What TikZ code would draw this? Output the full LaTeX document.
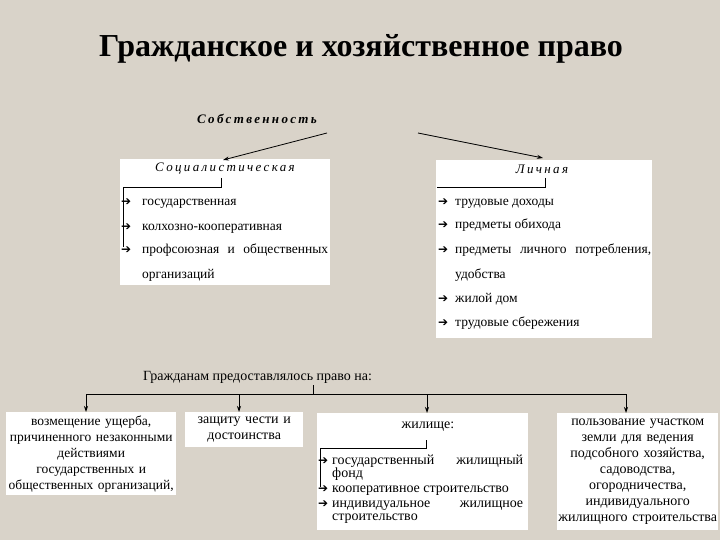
\documentclass[tikz,border=0pt]{standalone}
\usepackage{fontspec}
\setmainfont{Liberation Serif}
\newfontfamily\arrowfont{DejaVu Sans}
\usetikzlibrary{arrows.meta}
\definecolor{bg}{HTML}{D9D3C9}
\tikzset{
  box/.style={fill=white, draw=none, inner sep=0pt, anchor=north west},
  item/.style={anchor=base west, inner sep=0pt, font=\fontsize{13.5}{15}\selectfont},
  hitem/.style={anchor=base west, inner sep=0pt, font=\fontsize{14}{15}\selectfont},
  bul/.style={anchor=base west, inner sep=0pt, font=\arrowfont\bfseries\fontsize{12}{13}\selectfont},
  head/.style={anchor=base, inner sep=0pt, font=\itshape\fontsize{13}{15}\selectfont\addfontfeatures{LetterSpace=18}},
  ln/.style={line width=0.8pt},
  arr/.style={line width=0.8pt, -{Stealth[length=6pt,width=4pt]}},
  btext/.style={font=\fontsize{14}{16}\selectfont, align=center, inner sep=0pt}
}
\begin{document}
\begin{tikzpicture}[x=1pt,y=-1pt]
\fill[bg] (0,0) rectangle (720,540);
\useasboundingbox (0,0) rectangle (720,540);

% title
\node[font=\bfseries\fontsize{32}{36}\selectfont, anchor=base] (title) at (361,57) {Гражданское и хозяйственное право};

% property
\node[anchor=base, inner sep=0pt, font=\bfseries\itshape\fontsize{13}{15}\selectfont\addfontfeatures{LetterSpace=18}] (prop) at (257,124) {Собственность};
\coordinate (propL) at (327,133);
\coordinate (propR) at (418,133);

% socialist box
\node[box, minimum width=210pt, minimum height=126pt] (socbox) at (120,159) {};
\node[head] (soc) at (225,172) {Социалистическая};
\draw[arr] (propL) -- (223,160);
\draw[ln] (221,178) -- (221,187) -- (123,187) -- (123,247);
\node[bul] (sa1) at (121,206) {➔};
\node[item] (s1) at (142,206) {государственная};
\node[bul] (sa2) at (121,230) {➔};
\node[item] (s2) at (142,230) {колхозно-кооперативная};
\node[bul] (sa3) at (121,253) {➔};
\node[item] (s3) at (142,253) {\makebox[186pt][s]{профсоюзная и общественных}};
\node[item] (s4) at (142,278) {организаций};

% personal box
\node[box, minimum width=216pt, minimum height=178pt] (perbox) at (436,160) {};
\node[head] (per) at (542,174) {Личная};
\draw[arr] (propR) -- (543,158);
\draw[ln] (545,178) -- (545,187) -- (437,187);
\node[bul] (pa1) at (438,206) {➔};
\node[item] (p1) at (455,206) {трудовые доходы};
\node[bul] (pa2) at (438,229) {➔};
\node[item] (p2) at (455,229) {предметы обихода};
\node[bul] (pa3) at (438,253) {➔};
\node[item] (p3) at (455,253) {\makebox[196pt][s]{предметы личного потребления,}};
\node[item] (p4) at (455,278) {удобства};
\node[bul] (pa5) at (438,302) {➔};
\node[item] (p5) at (455,302) {жилой дом};
\node[bul] (pa6) at (438,326) {➔};
\node[item] (p6) at (455,326) {трудовые сбережения};

% citizens
\node[anchor=base west, inner sep=0pt, font=\fontsize{14}{16}\selectfont] (cit) at (143,380) {Гражданам предоставлялось право на:};
\coordinate (citT) at (313,385);
\coordinate (bus) at (313,394);
\draw[ln] (citT) -- (bus);
\draw[ln] (86,394) -- (626,394);

\node[box, btext, font=\fontsize{13.5}{16}\selectfont, minimum width=170pt, minimum height=83pt, text width=170pt] (b1) at (6,412)
  {возмещение ущерба,\\ причиненного незаконными\\ действиями\\ государственных и\\ общественных организаций,};
\node[box, btext, minimum width=118pt, minimum height=35pt, text width=118pt] (b2) at (185,412)
  {защиту чести и\\ достоинства};
\node[box, minimum width=211pt, minimum height=117pt] (b3) at (317,413) {};
\node[box, btext, minimum width=161pt, minimum height=117pt, text width=161pt] (b4) at (557,413)
  {пользование участком\\ земли для ведения\\ подсобного хозяйства,\\ садоводства,\\ огородничества,\\ индивидуального\\ жилищного строительства};

\draw[arr] (86,394) -- (86,412);
\draw[arr] (239,394) -- (239,412);
\draw[arr] (427,394) -- (427,413);
\draw[arr] (626,394) -- (626,413);

% housing box content
\node[anchor=base, inner sep=0pt, font=\fontsize{14}{16}\selectfont] (hous) at (428,428) {жилище:};
\draw[ln] (426,440) -- (426,448) -- (320,448) -- (320,487);
\node[bul] (ha1) at (318,464) {➔};
\node[hitem] (h1) at (332,464) {\makebox[191pt][s]{государственный жилищный}};
\node[hitem] (h2) at (332,477) {фонд};
\node[bul] (ha3) at (318,492) {➔};
\node[hitem] (h3) at (332,492) {кооперативное строительство};
\node[bul] (ha4) at (318,507) {➔};
\node[hitem] (h4) at (332,507) {\makebox[191pt][s]{индивидуальное жилищное}};
\node[hitem] (h5) at (332,520) {строительство};
\end{tikzpicture}
\end{document}
